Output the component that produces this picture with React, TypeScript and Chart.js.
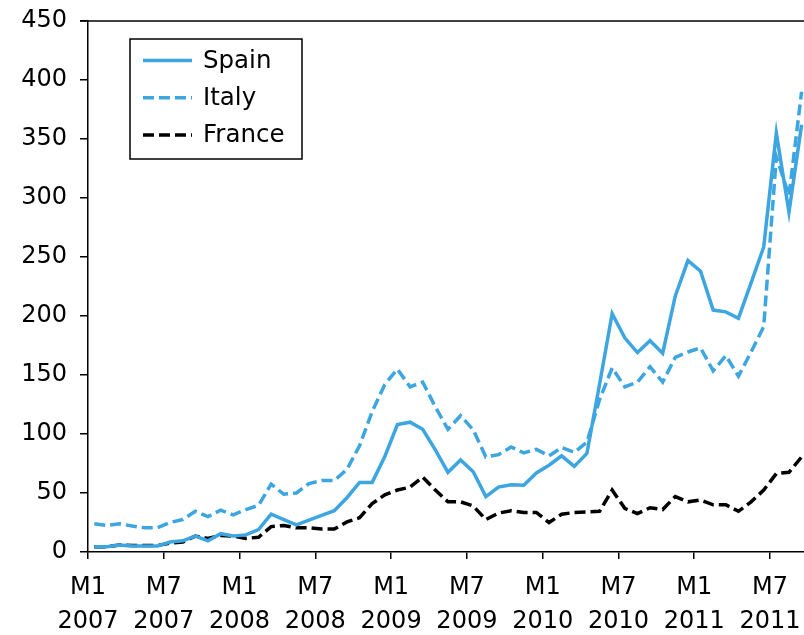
import React, { useEffect, useRef } from 'react';
import { Chart, registerables } from 'chart.js';

Chart.register(...registerables);

// Tick labels (every 6 months, starting M1 2007)
const tickMonths = ['M1', 'M7', 'M1', 'M7', 'M1', 'M7', 'M1', 'M7', 'M1', 'M7'];
const tickYears = ['2007', '2007', '2008', '2008', '2009', '2009', '2010', '2010', '2011', '2011'];

// Monthly series, M1 2007 .. M9 2011
const spain = [
  4.5, 4.5, 6, 5, 5, 5, 8.5, 9.5, 13.5, 9.5, 15.5, 13.5,
  14.5, 19, 32, 27.5, 23, 27, 31, 35, 46, 59, 59, 81,
  108, 110, 104, 86.5, 67.5, 78, 68, 47, 55, 57, 56.5, 67,
  73.5, 81.5, 72.5, 83.5, 142, 202, 181.5, 169, 179, 168.5, 217, 247,
  238, 205, 203.5, 198, 228, 258.5, 355, 288, 362,
];
const italy = [
  24, 22.5, 24, 22, 20.5, 20.5, 25, 27.5, 34.5, 30, 35.5, 31.5,
  36, 39.5, 57.5, 49, 50, 58, 60.5, 60.5, 70, 90, 119, 142,
  155, 140, 144, 123, 104, 115.5, 103.5, 80.5, 82.5, 89, 84, 87,
  81.5, 88.5, 84.5, 93, 129, 156, 140, 144, 157, 144, 165, 169.5,
  173, 153.5, 166.5, 149, 169.5, 191, 335, 302, 390,
];
const france = [
  4.5, 4.5, 6, 5.5, 5.5, 5.5, 7.5, 8.5, 13.5, 11.5, 14, 13.5,
  11.5, 12.5, 21.5, 22.5, 20.5, 20.5, 19.5, 19.5, 25.5, 29, 41, 48.5,
  52.5, 55, 63.5, 52.5, 42.5, 42.5, 39, 27.5, 33, 35, 33.5, 33.5,
  25, 32, 33.5, 34, 34.5, 52.5, 37, 32.5, 37.5, 36, 47, 42.5,
  44, 40, 40, 34.5, 42.5, 52.5, 66.5, 67.5, 80.5,
];
const seriesNames = ['Spain', 'Italy', 'France'];

const BLUE = '#3DA5E0';
const FONT = 'DejaVu Sans';

const toPoints = (arr: number[]) => arr.map((v, i) => ({ x: i + 0.5, y: v }));

const frameAndLegend = {
  id: 'frameAndLegend',
  afterDraw(chart: any) {
    const ctx = chart.ctx as CanvasRenderingContext2D;
    const a = chart.chartArea;
    ctx.save();
    ctx.strokeStyle = '#000';
    ctx.lineWidth = 1.5;
    ctx.setLineDash([]);
    ctx.beginPath();
    ctx.moveTo(a.left - 8, a.top);
    ctx.lineTo(chart.width, a.top);
    ctx.stroke();

    const bx = a.left + 42;
    const by = a.top + 18;
    const bw = 172;
    const bh = 120;
    ctx.fillStyle = '#fff';
    ctx.fillRect(bx, by, bw, bh);
    ctx.strokeRect(bx, by, bw, bh);

    chart.data.datasets.forEach((ds: any, k: number) => {
      const y = by + 21.5 + k * 37.2;
      ctx.strokeStyle = ds.borderColor;
      ctx.lineWidth = ds.borderWidth;
      ctx.setLineDash(ds.borderDash || []);
      ctx.beginPath();
      ctx.moveTo(bx + 13, y);
      ctx.lineTo(bx + 62, y);
      ctx.stroke();
      ctx.setLineDash([]);
      ctx.fillStyle = '#000';
      ctx.font = `24.5px "${FONT}"`;
      ctx.textAlign = 'left';
      ctx.textBaseline = 'middle';
      ctx.fillText(ds.label, bx + 73, y + 1);
    });
    ctx.restore();
  },
};

export default function App() {
  const ref = useRef<HTMLCanvasElement>(null);
  useEffect(() => {
    if (!ref.current) return;
    const chart = new Chart(ref.current, {
      type: 'line',
      data: {
        datasets: [
          { label: seriesNames[0], data: toPoints(spain), borderColor: BLUE, borderWidth: 3.5, pointRadius: 0, tension: 0, fill: false },
          { label: seriesNames[1], data: toPoints(italy), borderColor: BLUE, borderWidth: 3.5, borderDash: [11, 5], pointRadius: 0, tension: 0, fill: false },
          { label: seriesNames[2], data: toPoints(france), borderColor: '#000', borderWidth: 3.5, borderDash: [11, 5], pointRadius: 0, tension: 0, fill: false },
        ],
      },
      options: {
        responsive: false,
        animation: false,
        devicePixelRatio: 1,
        layout: { padding: { top: 21, left: 0, right: 0, bottom: 0 } },
        plugins: { legend: { display: false }, tooltip: { enabled: false } },
        scales: {
          x: {
            type: 'linear',
            min: 0,
            max: 56.69,
            afterFit: (s: any) => { s.height = 83; s.paddingLeft = 0; s.paddingRight = 0; },
            border: { display: true, color: '#000', width: 1.5 },
            grid: { display: true, drawOnChartArea: false, drawTicks: true, tickLength: 7, color: '#000', lineWidth: 1.5 },
            ticks: {
              stepSize: 6,
              includeBounds: false,
              autoSkip: false,
              maxRotation: 0,
              minRotation: 0,
              color: '#000',
              padding: 11,
              font: { family: FONT, size: 24, lineHeight: 1.45 },
              callback: (v: any) => {
                const k = Math.round(Number(v) / 6);
                if (Math.abs(Number(v) - k * 6) > 1e-6 || !tickMonths[k]) return '';
                return [tickMonths[k], tickYears[k]];
              },
            },
          },
          y: {
            min: 0,
            max: 450,
            afterFit: (s: any) => { s.width = 88; s.paddingTop = 0; s.paddingBottom = 0; },
            border: { display: true, color: '#000', width: 1.5 },
            grid: { display: true, drawOnChartArea: false, drawTicks: true, tickLength: 8, color: '#000', lineWidth: 1.5 },
            ticks: {
              stepSize: 50,
              color: '#000',
              padding: 13,
              font: { family: FONT, size: 24 },
            },
          },
        },
      },
      plugins: [frameAndLegend],
    });
    return () => chart.destroy();
  }, []);
  return (
    <div style={{ position: 'absolute', left: 0, top: 0, width: 804, height: 635, background: '#fff' }}>
      <canvas ref={ref} width={804} height={635} style={{ display: 'block' }} />
    </div>
  );
}
